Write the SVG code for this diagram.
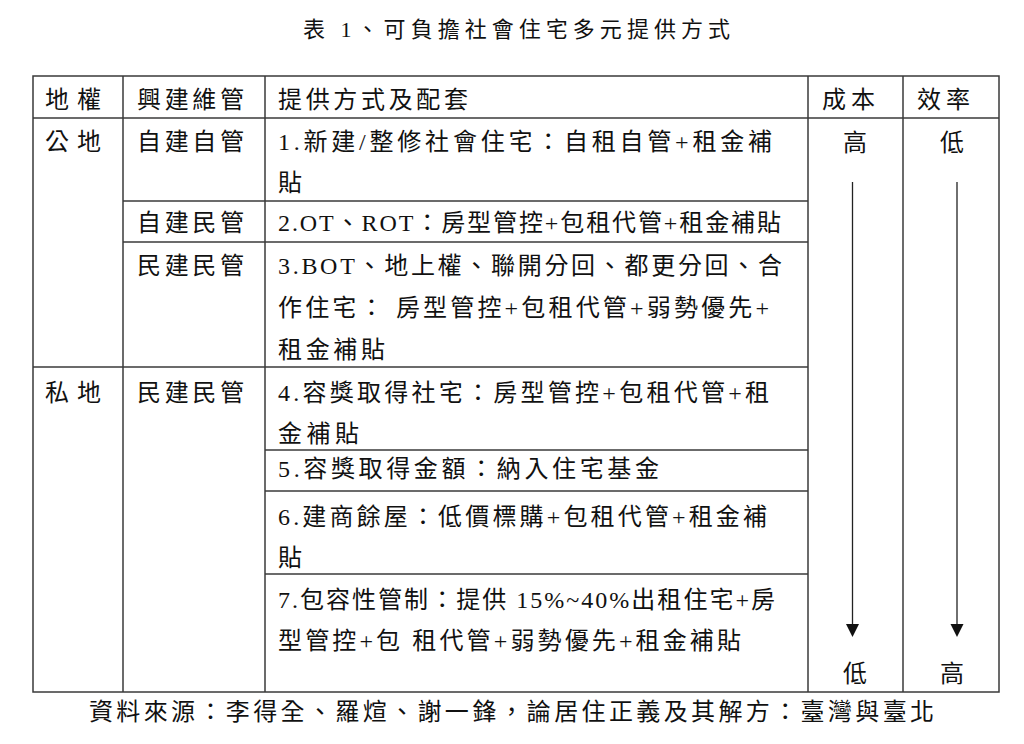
<svg xmlns="http://www.w3.org/2000/svg" width="1024" height="744" viewBox="0 0 1024 744">
<style>
text{font-family:"Liberation Serif","Noto Sans CJK TC",serif;font-size:24px;fill:#111;}
.t{font-size:22px;}
.g{stroke:#3a3a3a;stroke-width:1.5;fill:none;}
.ar{stroke:#222;stroke-width:1.3;}
.hd{fill:#111;}
</style>
<rect width="1024" height="744" fill="#fff"/>
<g id="title"><text class="t" x="303" y="37" textLength="427" lengthAdjust="spacing">表 1、可負擔社會住宅多元提供方式</text></g>
<g id="grid" class="g">
<rect x="33" y="76" width="966" height="616"/>
<line x1="123" y1="76" x2="123" y2="692"/>
<line x1="265" y1="76" x2="265" y2="692"/>
<line x1="808" y1="76" x2="808" y2="692"/>
<line x1="903" y1="76" x2="903" y2="692"/>
<line x1="33" y1="118" x2="999" y2="118"/>
<line x1="123" y1="201" x2="808" y2="201"/>
<line x1="123" y1="242" x2="808" y2="242"/>
<line x1="33" y1="367" x2="808" y2="367"/>
<line x1="265" y1="450" x2="808" y2="450"/>
<line x1="265" y1="491" x2="808" y2="491"/>
<line x1="265" y1="574" x2="808" y2="574"/>
</g>
<g id="header">
<text x="45" y="108" textLength="56" lengthAdjust="spacing">地權</text>
<text x="137" y="108" textLength="107" lengthAdjust="spacing">興建維管</text>
<text x="278" y="108" textLength="190" lengthAdjust="spacing">提供方式及配套</text>
<text x="822" y="108" textLength="53" lengthAdjust="spacing">成本</text>
<text x="917" y="108" textLength="53" lengthAdjust="spacing">效率</text>
</g>
<g id="land-public"><text x="45" y="150" textLength="56" lengthAdjust="spacing">公地</text></g>
<g id="land-private"><text x="45" y="401" textLength="56" lengthAdjust="spacing">私地</text></g>
<g id="mgmt-1"><text x="137" y="150" textLength="107" lengthAdjust="spacing">自建自管</text></g>
<g id="mgmt-2"><text x="137" y="231" textLength="107" lengthAdjust="spacing">自建民管</text></g>
<g id="mgmt-3"><text x="137" y="274" textLength="107" lengthAdjust="spacing">民建民管</text></g>
<g id="mgmt-4"><text x="137" y="401" textLength="107" lengthAdjust="spacing">民建民管</text></g>
<g id="item-1">
<text x="278" y="150" textLength="494" lengthAdjust="spacing">1.新建/整修社會住宅：自租自管+租金補</text>
<text x="278" y="191">貼</text>
</g>
<g id="item-2"><text x="278" y="231" textLength="503" lengthAdjust="spacing">2.OT、ROT：房型管控+包租代管+租金補貼</text></g>
<g id="item-3">
<text x="278" y="274" textLength="504" lengthAdjust="spacing">3.BOT、地上權、聯開分回、都更分回、合</text>
<text x="278" y="316" textLength="491" lengthAdjust="spacing">作住宅： 房型管控+包租代管+弱勢優先+</text>
<text x="278" y="358" textLength="107" lengthAdjust="spacing">租金補貼</text>
</g>
<g id="item-4">
<text x="278" y="401" textLength="491" lengthAdjust="spacing">4.容獎取得社宅：房型管控+包租代管+租</text>
<text x="278" y="442" textLength="81" lengthAdjust="spacing">金補貼</text>
</g>
<g id="item-5"><text x="278" y="477" textLength="381" lengthAdjust="spacing">5.容獎取得金額：納入住宅基金</text></g>
<g id="item-6">
<text x="278" y="525" textLength="489" lengthAdjust="spacing">6.建商餘屋：低價標購+包租代管+租金補</text>
<text x="278" y="566">貼</text>
</g>
<g id="item-7">
<text x="278" y="608" textLength="497" lengthAdjust="spacing">7.包容性管制：提供 15%~40%出租住宅+房</text>
<text x="278" y="649" textLength="463" lengthAdjust="spacing">型管控+包 租代管+弱勢優先+租金補貼</text>
</g>
<g id="cost">
<text x="843" y="151">高</text>
<text x="843" y="682">低</text>
</g>
<g id="efficiency">
<text x="940" y="151">低</text>
<text x="940" y="682">高</text>
</g>
<g id="connectors">
<line class="ar" x1="852.5" y1="182" x2="852.5" y2="625"/>
<polygon class="hd" points="846,624 859,624 852.5,637"/>
<line class="ar" x1="957" y1="182" x2="957" y2="625"/>
<polygon class="hd" points="950.5,624 963.5,624 957,637"/>
</g>
<g id="source"><text x="89" y="720" textLength="845" lengthAdjust="spacing">資料來源：李得全、羅煊、謝一鋒，論居住正義及其解方：臺灣與臺北</text></g>
</svg>
